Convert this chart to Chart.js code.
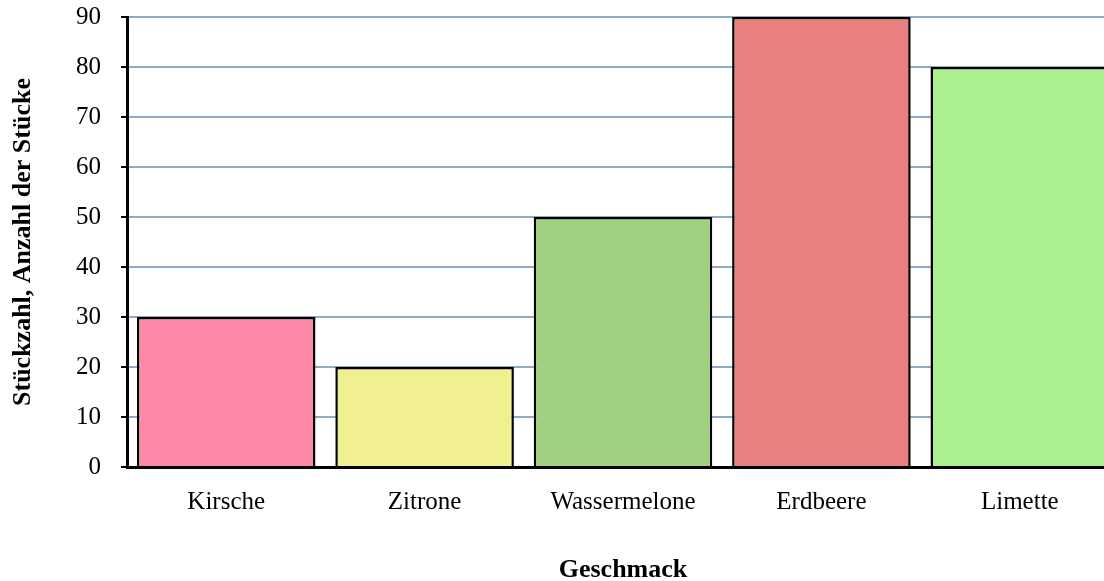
<!DOCTYPE html>
<html>
<head>
<meta charset="utf-8">
<script src="https://cdn.jsdelivr.net/npm/chart.js@4.4.0/dist/chart.umd.min.js"></script>
<style>
  html, body { margin: 0; padding: 0; background: #fff; overflow: hidden; }
  #wrap { position: relative; width: 1120px; height: 581px; }
</style>
</head>
<body>
<div id="wrap"><canvas id="chart"></canvas></div>
<script>
// Data
const categories = ['Kirsche', 'Zitrone', 'Wassermelone', 'Erdbeere', 'Limette'];
const values = [30, 20, 50, 90, 80];
const barColors = ['#FF88A8', '#F0F090', '#A0D080', '#E88080', '#ACF090'];
const yTitle = 'Stückzahl, Anzahl der Stücke';
const xTitle = 'Geschmack';

const serif = "'Liberation Serif', 'Times New Roman', serif";

const ctx = document.getElementById('chart').getContext('2d');
new Chart(ctx, {
    type: 'bar',
    data: {
        labels: categories,
        datasets: [{
            data: values,
            backgroundColor: barColors,
            borderColor: '#000',
            borderWidth: 2.5,
            borderSkipped: 'bottom',
            barPercentage: 0.9,
            categoryPercentage: 1.0
        }]
    },
    options: {
        responsive: true,
        maintainAspectRatio: false,
        animation: false,
        layout: { padding: { top: 0, right: 1, left: 0, bottom: 0 } },
        plugins: {
            legend: { display: false },
            tooltip: { enabled: false }
        },
        scales: {
            x: {
                grid: { display: false },
                border: { display: true, color: '#000', width: 3 },
                ticks: {
                    color: '#000',
                    padding: 12,
                    font: { family: serif, size: 25 }
                },
                title: {
                    display: true,
                    text: xTitle,
                    color: '#000',
                    padding: { top: 20, bottom: -5 },
                    font: { family: serif, size: 26, weight: 'bold' }
                },
                afterFit: scale => { scale.height = 114; }
            },
            y: {
                min: 0,
                max: 90,
                ticks: {
                    stepSize: 10,
                    color: '#000',
                    padding: 20,
                    font: { family: serif, size: 25 }
                },
                grid: {
                    color: '#8FAAC6',
                    lineWidth: 2,
                    tickColor: '#000',
                    tickLength: 6,
                    tickWidth: 2
                },
                border: { display: true, color: '#000', width: 3 },
                title: {
                    display: true,
                    text: yTitle,
                    color: '#000',
                    padding: { top: 8, bottom: 0 },
                    font: { family: serif, size: 26, weight: 'bold' }
                },
                afterFit: scale => {
                    scale.width = 127;
                    // tick padding would otherwise push the plot top down
                    scale.paddingTop = 17;
                }
            }
        }
    }
});
</script>
</body>
</html>
